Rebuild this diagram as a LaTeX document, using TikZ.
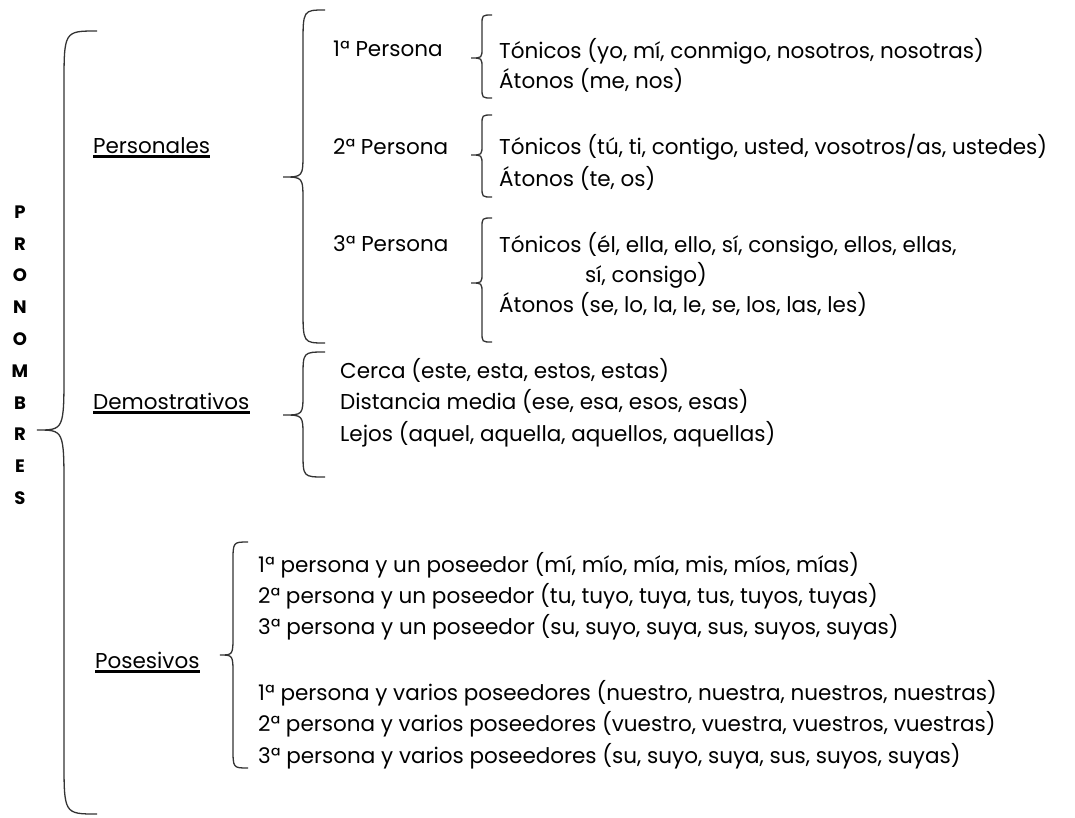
\documentclass[tikz,border=0pt]{standalone}
\usepackage{fontspec}
\setmainfont{Poppins}
\newcommand{\mybrace}[8]{%
  \draw[br] (#1,#4) .. controls (#2,#4) .. (#2,{#4+#7}) -- (#2,{#5-#8})
    .. controls (#2,#5) .. (#3,#5) .. controls (#2,#5) .. (#2,{#5+#8})
    -- (#2,{#6-#7}) .. controls (#2,#6) .. (#1,#6);}
\begin{document}
\begin{tikzpicture}[x=1pt,y=-1pt,
  br/.style={line width=1.3pt, draw=black!80},
  txt/.style={anchor=west, inner sep=0pt, font=\fontsize{21.5}{24}\selectfont, text height=15pt, text depth=3pt},
  ul/.style={line width=2.6pt},
  letter/.style={font=\bfseries\fontsize{18}{18}\selectfont, inner sep=0pt}]
\useasboundingbox[fill=white] (0,0) rectangle (1075,817);

% braces
\mybrace{97}{64}{37}{31}{430}{814}{55}{60}
\mybrace{325}{303}{283}{10}{177}{343}{35}{25}
\mybrace{492}{482}{471}{15}{58}{98}{10}{10}
\mybrace{492}{482}{471}{115}{155}{197}{10}{10}
\mybrace{492}{482}{471}{218}{283}{342}{10}{10}
\mybrace{325}{303}{283}{352}{415}{477}{25}{22}
\mybrace{248}{233}{220}{542}{655}{768}{20}{20}

% PRONOMBRES
\foreach \l [count=\i from 0] in {P,R,O,N,O,M,B,R,E,S}
  \node[letter] (L\i) at (20,{212+31.8*\i}) {\l};

% categories
\node[txt] (pers) at (93,147) {Personales};
\draw[ul] ([yshift=-3.5pt]pers.base west) -- ([yshift=-3.5pt]pers.base east);
\node[txt] (demo) at (93,403) {Demostrativos};
\draw[ul] ([yshift=-3.5pt]demo.base west) -- ([yshift=-3.5pt]demo.base east);
\node[txt] (pose) at (95,662) {Posesivos};
\draw[ul] ([yshift=-3.5pt]pose.base west) -- ([yshift=-3.5pt]pose.base east);

% personas
\node[txt] (p1) at (333,50) {1ª Persona};
\node[txt] (p2) at (333,148) {2ª Persona};
\node[txt] (p3) at (333,245) {3ª Persona};

\node[txt] (t1) at (499,52) {Tónicos (yo, mí, conmigo, nosotros, nosotras)};
\node[txt] (a1) at (499,82) {Átonos (me, nos)};
\node[txt] (t2) at (499,148) {Tónicos (tú, ti, contigo, usted, vosotros/as, ustedes)};
\node[txt] (a2) at (499,180) {Átonos (te, os)};
\node[txt] (t3) at (499,246) {Tónicos (él, ella, ello, sí, consigo, ellos, ellas,};
\node[txt] (t3b) at (585,276) {sí, consigo)};
\node[txt] (a3) at (499,306) {Átonos (se, lo, la, le, se, los, las, les)};

% demostrativos
\node[txt] (d1) at (340,372) {Cerca (este, esta, estos, estas)};
\node[txt] (d2) at (340,403) {Distancia media (ese, esa, esos, esas)};
\node[txt] (d3) at (340,435) {Lejos (aquel, aquella, aquellos, aquellas)};

% posesivos
\node[txt] (s1) at (258,566) {1ª persona y un poseedor (mí, mío, mía, mis, míos, mías)};
\node[txt] (s2) at (258,597) {2ª persona y un poseedor (tu, tuyo, tuya, tus, tuyos, tuyas)};
\node[txt] (s3) at (258,628) {3ª persona y un poseedor (su, suyo, suya, sus, suyos, suyas)};
\node[txt] (s4) at (258,694) {1ª persona y varios poseedores (nuestro, nuestra, nuestros, nuestras)};
\node[txt] (s5) at (258,725) {2ª persona y varios poseedores (vuestro, vuestra, vuestros, vuestras)};
\node[txt] (s6) at (258,757) {3ª persona y varios poseedores (su, suyo, suya, sus, suyos, suyas)};
\end{tikzpicture}
\end{document}
